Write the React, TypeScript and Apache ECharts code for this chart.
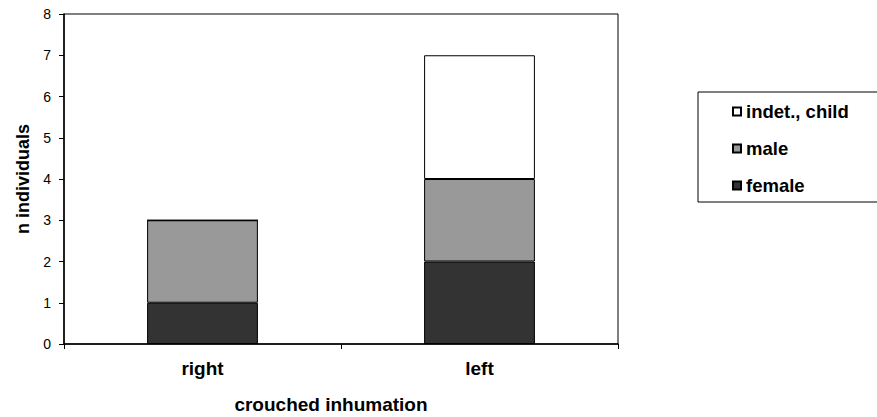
import React, { useEffect, useRef } from "react";
import * as echarts from "echarts";

const categories = ["right", "left"];
const female = [1, 2];
const male = [2, 2];
const indetChild = [0, 3];
const yTicks = { min: 0, max: 8, interval: 1 };
const xTitle = "crouched inhumation";
const yTitle = "n individuals";

const FONT = "'Liberation Sans', Arial, sans-serif";

export default function App() {
  const ref = useRef<HTMLDivElement>(null);
  useEffect(() => {
    if (!ref.current) return;
    const chart = echarts.init(ref.current, null, { renderer: "svg" });
    const barStyle = (color: string) => ({ color, borderColor: "#000", borderWidth: 1 });
    chart.setOption({
      animation: false,
      backgroundColor: "#fff",
      textStyle: { fontFamily: FONT },
      grid: {
        left: 64,
        top: 14,
        width: 554,
        height: 330,
        show: true,
        borderColor: "#000",
        borderWidth: 1,
        backgroundColor: "transparent",
      },
      xAxis: {
        type: "category",
        data: categories,
        boundaryGap: true,
        axisLine: { lineStyle: { color: "#000", width: 1.5 } },
        axisTick: { show: true, length: 5, interval: 0, alignWithLabel: false, lineStyle: { color: "#000" } },
        axisLabel: { color: "#000", fontWeight: "bold", fontSize: 19, margin: 15, fontFamily: FONT },
      },
      yAxis: {
        type: "value",
        min: yTicks.min,
        max: yTicks.max,
        interval: yTicks.interval,
        splitLine: { show: false },
        axisLine: { show: true, lineStyle: { color: "#000", width: 1.5 } },
        axisTick: { show: true, length: 5, lineStyle: { color: "#000" } },
        axisLabel: { color: "#000", fontSize: 14, margin: 13, fontFamily: FONT },
        name: yTitle,
        nameLocation: "middle",
        nameGap: 32,
        nameRotate: 90,
        nameTextStyle: { color: "#000", fontWeight: "bold", fontSize: 18, fontFamily: FONT },
      },
      legend: {
        data: ["indet., child", "male", "female"],
        orient: "vertical",
        left: 732,
        top: 102,
        padding: 0,
        itemWidth: 8,
        itemHeight: 8,
        itemGap: 18,
        icon: "rect",
        textStyle: { color: "#000", fontWeight: "bold", fontSize: 18.5, lineHeight: 18, fontFamily: FONT },
      },
      graphic: [
        {
          type: "rect",
          shape: { x: 698, y: 92, width: 185, height: 110 },
          style: { fill: "none", stroke: "#000", lineWidth: 1 },
          z: -1,
        },
        {
          type: "text",
          x: 331,
          y: 404,
          style: {
            text: xTitle,
            fill: "#000",
            font: `bold 19px ${FONT}`,
            align: "center",
            verticalAlign: "middle",
          },
        },
      ],
      series: [
        { name: "female", type: "bar", stack: "a", barWidth: "40%", data: female, itemStyle: barStyle("#333333") },
        { name: "male", type: "bar", stack: "a", barWidth: "40%", data: male, itemStyle: barStyle("#999999") },
        { name: "indet., child", type: "bar", stack: "a", barWidth: "40%", data: indetChild, itemStyle: barStyle("#ffffff") },
      ],
    });
    return () => chart.dispose();
  }, []);
  return (
    <div
      ref={ref}
      style={{ position: "fixed", left: 0, top: 0, width: 877, height: 417 }}
    />
  );
}
